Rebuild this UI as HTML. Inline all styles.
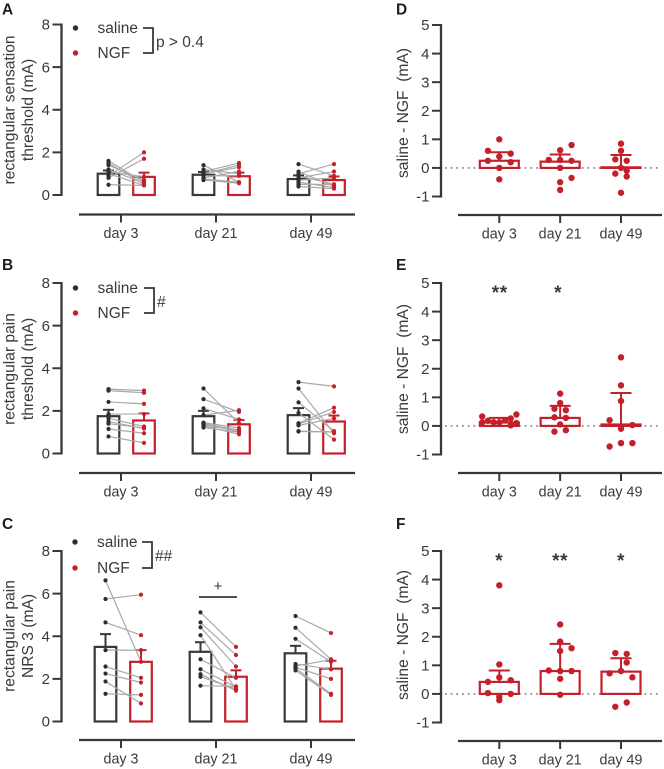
<!DOCTYPE html>
<html>
<head>
<meta charset="utf-8">
<style>
html,body{margin:0;padding:0;background:#fff;}
svg{display:block;font-family:"Liberation Sans",sans-serif;filter:blur(0.35px);}
text{fill:#3a3a3a;}
</style>
</head>
<body>
<svg id="fig" width="664" height="769" viewBox="0 0 664 769" xmlns="http://www.w3.org/2000/svg"></svg>
<script>
// Shared categories and tick labels
const days = ['day 3', 'day 21', 'day 49'];
const leftTicks = [0, 2, 4, 6, 8];
const rightTicks = [-1, 0, 1, 2, 3, 4, 5];

// Panel A: paired subjects per day
const aSaline = [
  [1.6, 1.5, 1.4, 1.2, 1.1, 1.0, 0.9, 0.8, 0.48],
  [1.4, 1.2, 1.1, 1.0, 1.0, 0.9, 0.8, 0.75, 0.7],
  [1.45, 1.1, 1.0, 0.9, 0.8, 0.7, 0.6, 0.5, 0.4]
];
const aNgf = [
  [0.6, 0.5, 0.7, 0.55, 0.85, 0.45, 2.0, 1.7, 0.45],
  [0.6, 1.0, 1.5, 1.4, 1.3, 0.9, 1.1, 0.6, 0.55],
  [0.9, 0.4, 1.45, 0.5, 1.1, 0.8, 0.35, 0.5, 0.3]
];
const aSalineMean = [1.0, 0.95, 0.75];
const aSalineErr = [1.15, 1.08, 0.92];
const aNgfMean = [0.85, 0.88, 0.7];
const aNgfErr = [1.05, 1.05, 0.87];

// Panel B
const bSaline = [
  [3.02, 2.95, 2.42, 1.85, 1.65, 1.5, 1.4, 1.15, 0.8],
  [3.05, 2.55, 2.12, 1.8, 1.45, 1.4, 1.35, 1.3, 1.22],
  [3.35, 3.05, 2.4, 1.9, 1.42, 1.38, 1.32, 1.05, 1.03]
];
const bNgf = [
  [2.95, 2.85, 2.33, 1.85, 1.27, 1.17, 1.2, 0.95, 0.5],
  [1.42, 1.95, 1.6, 2.03, 1.2, 1.1, 1.05, 0.9, 1.0],
  [3.15, 0.95, 1.05, 0.65, 2.15, 1.95, 1.65, 1.0, 1.02]
];
const bSalineMean = [1.75, 1.75, 1.8];
const bSalineErr = [2.05, 2.0, 2.13];
const bNgfMean = [1.55, 1.37, 1.5];
const bNgfErr = [1.88, 1.57, 1.78];

// Panel C
const cSaline = [
  [6.62, 5.75, 4.65, 3.35, 2.58, 2.25, 1.88, 1.3],
  [5.12, 4.65, 4.42, 4.05, 2.92, 2.45, 2.22, 2.1, 1.68],
  [4.95, 4.4, 3.88, 2.7, 2.6, 2.55, 2.5, 2.4]
];
const cNgf = [
  [2.8, 5.95, 4.05, 3.35, 2.05, 1.83, 0.85, 1.25],
  [3.5, 3.12, 2.58, 1.5, 2.05, 1.62, 1.45, 1.52, 1.65],
  [4.15, 2.92, 2.8, 2.45, 2.9, 2.0, 1.3, 1.25]
];
const cSalineMean = [3.5, 3.27, 3.2];
const cSalineErr = [4.1, 3.72, 3.55];
const cNgfMean = [2.8, 2.1, 2.48];
const cNgfErr = [3.35, 2.4, 2.85];

// Panels D-F: difference values per day, with the swarm column of each dot
const dValues = [
  [1.0, 0.6, 0.5, 0.4, 0.25, 0.2, 0.0, -0.4],
  [0.8, 0.62, 0.28, 0.28, 0.25, 0.0, -0.35, -0.5, -0.77],
  [0.85, 0.6, 0.3, 0.25, 0.0, -0.1, -0.2, -0.3, -0.87]
];
const dColumns = [
  [0, -2, 2, 0, -2, 2, 0, 0],
  [2, 0, -2, 0, 2, 0, 2, 0, 0],
  [0, 0, -1, 1, 0, 1, -1, 1, 0]
];
const dMean = [0.25, 0.22, 0.02];
const dErr = [0.55, 0.47, 0.45];

const eValues = [
  [0.33, 0.12, 0.18, 0.13, 0.12, 0.2, 0.26, 0.02, 0.4, 0.1],
  [1.13, 0.8, 0.6, 0.55, 0.3, 0.28, 0.05, -0.2, -0.15],
  [2.4, 1.42, 0.87, 0.2, 0.03, -0.1, -0.6, -0.6, -0.72]
];
const eColumns = [
  [-3, -3, -2, -1, 0, 1, 2, 2, 3, 3],
  [0, 0, -1, 1, -1, 1, 0, -1, 1],
  [0, 0, 0, -2, 2, 0, 0, 2, -2]
];
const eMean = [0.12, 0.28, 0.05];
const eErr = [0.28, 0.7, 1.15];

const fValues = [
  [3.8, 1.03, 0.58, 0.48, 0.42, 0.03, 0.0, -0.1, -0.22],
  [2.43, 1.83, 1.6, 1.5, 0.82, 0.8, 0.8, 0.53, -0.03],
  [1.43, 1.4, 1.1, 0.8, 0.72, 0.58, -0.3, -0.45]
];
const fColumns = [
  [0, 0, 0, 2, -2, -2, 2, 0, 0],
  [0, 0, 2, 0, -2, 0, 2, 0, 0],
  [-1, 1, 1, 0, -2, 2, 1, -1]
];
const fMean = [0.42, 0.8, 0.78];
const fErr = [0.82, 1.75, 1.25];

const DARK = '#383838', RED = '#c4202b', GREY = '#a9a9a9', NS = 'http://www.w3.org/2000/svg';
const svg = document.getElementById('fig');

function mk(tag, attrs, text) {
  const el = document.createElementNS(NS, tag);
  for (const k in attrs) el.setAttribute(k, attrs[k]);
  if (text !== undefined) el.textContent = text;
  svg.appendChild(el);
  return el;
}
function line(x1, y1, x2, y2, stroke, w) {
  return mk('line', { x1, y1, x2, y2, stroke, 'stroke-width': w });
}

function yScale(top, bottom, vTop, vBottom) {
  return v => bottom + (v - vBottom) * (top - bottom) / (vTop - vBottom);
}

function yAxis(axisX, y, ticks, fontSize) {
  const first = ticks[0], last = ticks[ticks.length - 1];
  const spine = line(axisX, y(first) + 1, axisX, y(last) - 1, DARK, 2.3);
  
  
  ticks.forEach(t => {
    const tk = line(axisX - 9, y(t), axisX + 1, y(t), DARK, 2);
    
    
    const lab = mk('text', { x: axisX - 11.5, y: y(t) + 5.2, 'text-anchor': 'end', 'font-size': fontSize }, String(t));
    
    
  });
}

function xAxis(y0, x1, x2, tickXs) {
  const spine = line(x1, y0, x2, y0, DARK, 2.3);
  
  
  days.forEach((d, i) => {
    const tk = line(tickXs(i), y0, tickXs(i), y0 + 8, DARK, 2);
    
    
    const lab = mk('text', { x: tickXs(i), y: y0 + 23.5, 'text-anchor': 'middle', 'font-size': 14.3 }, d);
    
    
  });
}

function yTitle(cx, cy, txt) {
  const t = mk('text', { x: cx, y: cy, 'text-anchor': 'middle', 'font-size': 15.6, transform: `rotate(-90 ${cx} ${cy})` }, txt);
  
  
}

function panelLetter(x, y, txt) {
  const t = mk('text', { x, y, 'font-size': 15.5, 'font-weight': 'bold', style: 'fill:#1c1c1c' }, txt);
  
  
}

function errorBar(x, yMean, yErr, cap, color) {
  const stem = line(x, yMean, x, yErr, color, 2);
  
  
  const top = line(x - cap / 2, yErr, x + cap / 2, yErr, color, 2);
  
  
}

function pairedPanel(o) {
  const y = yScale(o.top, o.top + 170.5, 8, 0);
  const tickX = i => 121 + 95 * i;
  const salineX = i => tickX(i) + o.shift - 17.75;
  const ngfX = i => tickX(i) + o.shift + 17.75;

  yAxis(61.5, y, leftTicks, 15);
  xAxis(o.axisY, 79, 355, tickX);

  days.forEach((d, i) => {
    const b1 = mk('rect', { x: salineX(i) - 10.8, y: y(o.sMean[i]), width: 21.6, height: y(0) - y(o.sMean[i]), fill: 'none', stroke: DARK, 'stroke-width': 2.2 });
    
    
    const b2 = mk('rect', { x: ngfX(i) - 10.8, y: y(o.nMean[i]), width: 21.6, height: y(0) - y(o.nMean[i]), fill: 'none', stroke: RED, 'stroke-width': 2.2 });
    
    
    errorBar(salineX(i), y(o.sMean[i]), y(o.sErr[i]), 11, DARK);
    errorBar(ngfX(i), y(o.nMean[i]), y(o.nErr[i]), 11, RED);
    o.saline[i].forEach((v, j) => {
      const l = line(salineX(i), y(v), ngfX(i), y(o.ngf[i][j]), GREY, 1.2);
      
      
    });
    o.saline[i].forEach(v => {
      const c = mk('circle', { cx: salineX(i), cy: y(v), r: 2.1, fill: '#2e2e2e' });
      
      
    });
    o.ngf[i].forEach(v => {
      const c = mk('circle', { cx: ngfX(i), cy: y(v), r: 2.1, fill: RED });
      
      
    });
  });

  // legend
  const ly1 = o.legendY, ly2 = o.legendY + o.legendGap;
  const d1 = mk('circle', { cx: o.legendX, cy: ly1, r: 2.7, fill: '#2e2e2e' });
  
  
  const d2 = mk('circle', { cx: o.legendX, cy: ly2, r: 2.7, fill: RED });
  
  
  const t1 = mk('text', { x: o.legendX + 22, y: ly1 + 5, 'font-size': 15.5 }, 'saline');
  
  
  const t2 = mk('text', { x: o.legendX + 22, y: ly2 + 5, 'font-size': 15.5 }, 'NGF');
  
  
  const br = mk('path', { d: `M${o.brX} ${ly1}H${o.brX + 10}V${ly2}H${o.brX}`, fill: 'none', stroke: DARK, 'stroke-width': 1.8 });
  
  
  const sig = mk('text', { x: o.brX + 13, y: ly1 + 19, 'font-size': 15.5 }, o.sig);
  
  
}

function diffPanel(o) {
  const y = yScale(o.top, o.top + 171.5, 5, -1);
  const tickX = i => 499.3 + 60.85 * i;
  yAxis(441, y, rightTicks, 15);
  xAxis(o.axisY, 458, 662, tickX);

  const zero = line(445, y(0), 660, y(0), '#808080', 1.7);
  zero.setAttribute('stroke-dasharray', '1.7 4');
  
  

  days.forEach((d, i) => {
    const cx = tickX(i);
    const barH = Math.abs(y(0) - y(o.mean[i]));
    const b = mk('rect', { x: cx - 19.5, y: Math.min(y(0), y(o.mean[i])), width: 39, height: barH, fill: 'none', stroke: RED, 'stroke-width': 2.2 });
    
    
    errorBar(cx, y(o.mean[i]), y(o.err[i]), 21, RED);
    o.values[i].forEach((v, j) => {
      const c = mk('circle', { cx: cx + o.columns[i][j] * 5.7, cy: y(v), r: 3.2, fill: RED });
      
      
    });
    if (o.stars[i]) {
      const s = mk('text', { x: cx + o.starShift[i], y: o.starY, 'text-anchor': 'middle', 'font-size': 19, 'font-weight': 'bold', 'letter-spacing': '0.6' }, o.stars[i]);
      
      
    }
  });
}

// ---- Left column ----
panelLetter(2, 14.5, 'A');
yTitle(14.5, 110, 'rectangular sensation');
yTitle(33, 110, 'threshold (mA)');
pairedPanel({ top: 24.5, axisY: 214.5, shift: 5.25, saline: aSaline, ngf: aNgf, sMean: aSalineMean, sErr: aSalineErr, nMean: aNgfMean, nErr: aNgfErr, legendX: 75.5, legendY: 28, legendGap: 25, brX: 143, sig: 'p > 0.4' });

panelLetter(2, 270, 'B');
yTitle(14.5, 369, 'rectangular pain');
yTitle(33, 369, 'threshold (mA)');
pairedPanel({ top: 283, axisY: 473, shift: 5.25, saline: bSaline, ngf: bNgf, sMean: bSalineMean, sErr: bSalineErr, nMean: bNgfMean, nErr: bNgfErr, legendX: 75.5, legendY: 288, legendGap: 25, brX: 144, sig: '#' });

panelLetter(2, 529, 'C');
yTitle(14.5, 636, 'rectangular pain');
yTitle(33, 636, 'NRS 3 (mA)');
pairedPanel({ top: 551, axisY: 740, shift: 2.25, saline: cSaline, ngf: cNgf, sMean: cSalineMean, sErr: cSalineErr, nMean: cNgfMean, nErr: cNgfErr, legendX: 75, legendY: 542, legendGap: 26, brX: 142, sig: '##' });

const plusLine = line(199, 597, 237, 597, DARK, 1.8);


const plusLabel = mk('text', { x: 218, y: 591, 'text-anchor': 'middle', 'font-size': 15 }, '+');



// ---- Right column ----
panelLetter(396, 14.5, 'D');
yTitle(408, 113, 'saline - NGF\u00a0 (mA)');
diffPanel({ top: 25, axisY: 215, values: dValues, columns: dColumns, mean: dMean, err: dErr, stars: ['', '', ''], starShift: [0, 0, 0], starY: 0 });

panelLetter(396, 270, 'E');
yTitle(408, 369, 'saline - NGF\u00a0 (mA)');
diffPanel({ top: 283, axisY: 473, values: eValues, columns: eColumns, mean: eMean, err: eErr, stars: ['**', '*', ''], starShift: [0.5, -2, 0], starY: 299 });

panelLetter(396, 529, 'F');
yTitle(408, 635, 'saline - NGF\u00a0 (mA)');
diffPanel({ top: 551, axisY: 741, values: fValues, columns: fColumns, mean: fMean, err: fErr, stars: ['*', '**', '*'], starShift: [0, 0, 0], starY: 567 });
</script>
</body>
</html>
